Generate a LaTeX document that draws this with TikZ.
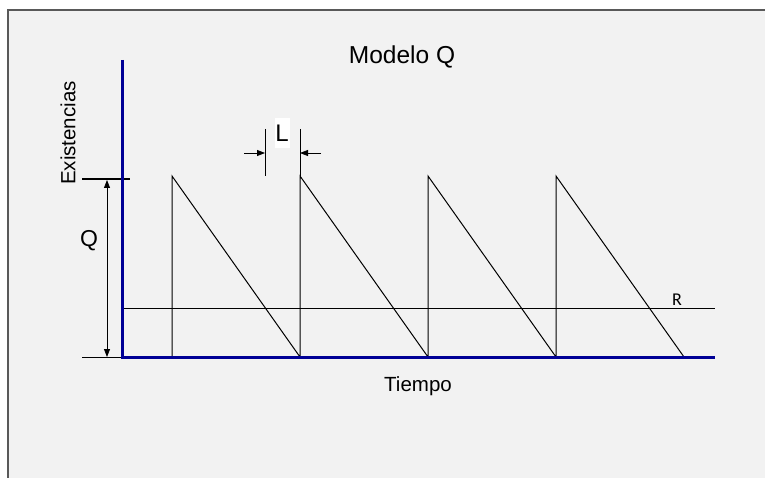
\documentclass[tikz,border=0pt]{standalone}
\usepackage{fontspec}
\setmainfont{Liberation Sans}
\newfontfamily\rfont{Carlito}
\usetikzlibrary{arrows.meta}
\definecolor{bgray}{HTML}{F2F2F2}
\definecolor{fgray}{HTML}{595959}
\definecolor{axisblue}{RGB}{0,0,150}
\begin{document}
\begin{tikzpicture}[x=1pt,y=-1pt,
  thinline/.style={draw=black,line width=1pt},
  axisline/.style={draw=axisblue,line width=3pt},
  dimarrow/.style={draw=black,line width=0.8pt,-{Triangle[length=8pt,width=6pt]}},
  lbl/.style={inner sep=0pt,font=\fontsize{20.5}{23}\selectfont}]
\useasboundingbox (0,0) rectangle (765,478);
\fill[white] (0,0) rectangle (765,478);
\fill[bgray] (8,10) rectangle (765,478);
\draw[fgray,line width=2pt] (8,478) -- (8,10) -- (766,10);
% coordinates
\coordinate (O) at (122,357);
\coordinate (Ytop) at (122,60);
\coordinate (Xend) at (715,357);
\coordinate (Rl) at (122,308);
\coordinate (Rr) at (715,308);
% reorder line R
\draw[thinline] (Rl) -- (Rr);
% sawtooth
\coordinate (b0) at (172,357);
\coordinate (t0) at (172,176);
\coordinate (b1) at (300,357);
\coordinate (t1) at (300,176);
\coordinate (b2) at (428,357);
\coordinate (t2) at (428,176);
\coordinate (b3) at (556,357);
\coordinate (t3) at (556,176);
\coordinate (b4) at (684,357);
\draw[thinline] (b0) -- (t0) -- (b1) -- (t1) -- (b2) -- (t2) -- (b3) -- (t3) -- (b4);
% L marker
\coordinate (La) at (265,129);
\coordinate (Lb) at (265,176);
\coordinate (Lc) at (300,129);
\draw[thinline] (La) -- (Lb);
\draw[thinline] (Lc) -- (t1);
\coordinate (Lal) at (244,153);
\coordinate (Lar) at (265,153);
\coordinate (Lbl) at (300,153);
\coordinate (Lbr) at (321,153);
\draw[dimarrow] (Lal) -- (Lar);
\draw[dimarrow] (Lbr) -- (Lbl);
\node[lbl,fill=white,minimum width=15pt,minimum height=30pt,font=\fontsize{24}{26}\selectfont] (L) at (282,133) {L};
% Q dimension
\coordinate (Qt1) at (82,179);
\coordinate (Qt2) at (130,179);
\draw[black,line width=2pt] (Qt1) -- (Qt2);
\coordinate (Qb1) at (82,357);
\draw[thinline] (Qb1) -- (O);
\coordinate (Qa) at (107,180);
\coordinate (Qb) at (107,357);
\draw[draw=black,line width=0.8pt,{Triangle[length=8pt,width=6pt]}-{Triangle[length=8pt,width=6pt]}] (Qa) -- (Qb);
\node[lbl,font=\fontsize{23}{25}\selectfont] (Q) at (89,241) {Q};
% axes
\draw[axisline] (Ytop) -- (O) -- (Xend);
% labels
\node[lbl,font=\fontsize{24.5}{27}\selectfont] (title) at (402,57) {Modelo Q};
\node[lbl] (tiempo) at (418,386) {Tiempo};
\node[lbl,rotate=90] (exist) at (68,133) {Existencias};
\node[inner sep=0pt,font=\rfont\fontsize{18}{20}\selectfont] (R) at (677,300) {R};
\end{tikzpicture}
\end{document}
